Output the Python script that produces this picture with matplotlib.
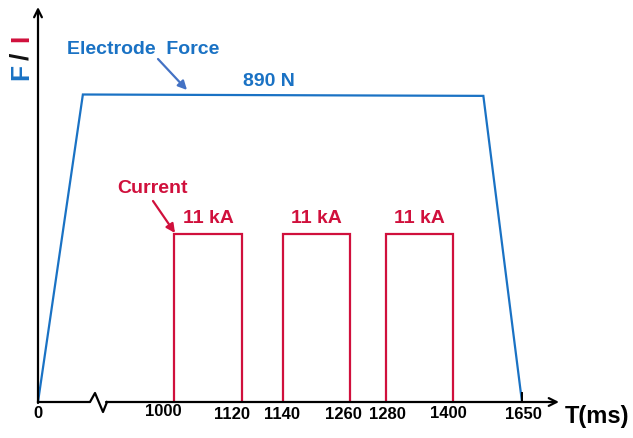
import numpy as np
import matplotlib
matplotlib.use("Agg")
import matplotlib.pyplot as plt
from matplotlib.scale import FuncScale

# ---- data ----
tick_ms = [0, 1000, 1120, 1140, 1260, 1280, 1400, 1650]
tick_labels = ["0", "1000", "1120", "1140", "1260", "1280", "1400", "1650"]
force_t = [0, 330, 1510, 1650]
force_N = [0, 890, 886, 0]
pulse_start = [1000, 1140, 1280]
pulse_end = [1120, 1260, 1400]
pulse_kA = [11, 11, 11]
force_label = "890 N"

# ---- styles ----
BLUE = "#1A72C4"
RED = "#D0103C"
ARROW_BLUE = "#4472C4"
FONT = "Liberation Sans"
plt.rcParams['font.family'] = [FONT, 'DejaVu Sans']

W, H = 633, 438
fig = plt.figure(figsize=(W / 100, H / 100), dpi=100)

# axes box in pixels
X0, Y0, X1, Y1 = 38, 402, 558, 8
ax = fig.add_axes([X0 / W, 1 - Y0 / H, (X1 - X0) / W, (Y0 - Y1) / H])

# schematic (broken) time scale: anchors in ms -> axis units
scale_ms = [0, 1000, 1120, 1140, 1260, 1280, 1400, 1650, 2000]
scale_u = [0, 136, 204, 245, 312, 348, 415, 484, 580.6]
fwd = lambda v: np.interp(v, scale_ms, scale_u)
inv = lambda u: np.interp(u, scale_u, scale_ms)
ax.set_xscale(FuncScale(ax, (fwd, inv)))
ax.set_xlim(0, inv(520))
ax.set_ylim(0, 890 * 394 / 307.5)

for s in ax.spines.values():
    s.set_visible(False)
ax.set_yticks([])
ax.set_xticks([])
ax.patch.set_alpha(0)

# force line
ax.plot(force_t, force_N, color=BLUE, lw=1.6, solid_joinstyle='miter', zorder=3)

# current on twin axis
ax2 = ax.twinx()
ax2.set_xscale(FuncScale(ax2, (fwd, inv)))
ax2.set_xlim(ax.get_xlim())
ax2.set_ylim(0, 11 * 394 / 168)
for s in ax2.spines.values():
    s.set_visible(False)
ax2.set_yticks([])
ax2.set_xticks([])
for s, e, a in zip(pulse_start, pulse_end, pulse_kA):
    ax2.plot([s, s, e, e], [0, a, a, 0], color=RED, lw=1.6,
             solid_joinstyle='miter', zorder=3)
    ax2.annotate(f"{a} kA", xy=((s + e) / 2, a), xytext=(0, 5),
                 textcoords='offset points', ha='center', va='bottom',
                 fontsize=14, fontweight='bold', color=RED)

# helper for figure pixel coordinates
def P(x, y):
    return (x / W, 1 - y / H)

# x axis with break
def A(x, y):
    return ((x - X0) / (X1 - X0), (Y0 - y) / (Y0 - Y1))
zig = [A(38, 402), A(90, 402), A(95, 393), A(103, 412), A(107, 402)]
ax2.plot([p[0] for p in zig], [p[1] for p in zig], color='black', lw=1.6,
         transform=ax2.transAxes, clip_on=False, zorder=4)
ax2.annotate("", xy=A(559, 402), xytext=A(106, 402), xycoords='axes fraction',
             arrowprops=dict(arrowstyle='->', color='black', lw=1.6,
                             shrinkA=0, shrinkB=0, mutation_scale=14), zorder=4)
# y axis
ax2.annotate("", xy=A(38, 7), xytext=A(38, 403), xycoords='axes fraction',
             arrowprops=dict(arrowstyle='->', color='black', lw=1.6,
                             shrinkA=0, shrinkB=0, mutation_scale=14), zorder=4)
# small tick at end
ax2.axvline(tick_ms[-1], 0, 9 / 394, color='black', lw=1.4, zorder=4)

# tick labels
label_dx = [0, -11, -10, -1, -7, 1, -5, 1]
label_dy = [0, -2, 1, 1, 1, 1, 0, 1]
for t, lab, dx, dy in zip(tick_ms, tick_labels, label_dx, label_dy):
    ax.annotate(lab, xy=(t, 0), xycoords=('data', 'axes fraction'),
                xytext=(dx * 0.72, -8.3 - dy * 0.72), textcoords='offset points',
                ha='center', va='center', fontsize=12, fontweight='bold',
                color='black')

fig.text(*P(597, 417), "T(ms)", ha='center', va='center', fontsize=17,
         fontweight='bold', color='black')

# y label F / I
fig.text(*P(21, 72), "F", rotation=90, ha='center', va='center', fontsize=19,
         fontweight='bold', color=BLUE)
fig.text(*P(21, 56), "/", rotation=90, ha='center', va='center', fontsize=19,
         fontweight='bold', color='#111111')
fig.text(*P(21, 38), "I", rotation=90, ha='center', va='center', fontsize=19,
         fontweight='bold', color=RED)

# annotations
fig.text(*P(143, 50), "Electrode  Force", ha='center', va='center', fontsize=14,
         fontweight='bold', color=BLUE)
fig.text(*P(269, 82), force_label, ha='center', va='center', fontsize=14,
         fontweight='bold', color=BLUE)
fig.text(*P(152, 189), "Current", ha='center', va='center', fontsize=14,
         fontweight='bold', color=RED)

ax2.annotate("", xy=P(187, 90), xytext=P(158, 59), xycoords='figure fraction',
             arrowprops=dict(arrowstyle='-|>', color=ARROW_BLUE, lw=1.6,
                             shrinkA=0, shrinkB=0, mutation_scale=13))
ax2.annotate("", xy=P(175, 233), xytext=P(153, 201), xycoords='figure fraction',
             arrowprops=dict(arrowstyle='-|>', color=RED, lw=1.6,
                             shrinkA=0, shrinkB=0, mutation_scale=13))

fig.savefig("out.png", dpi=100)
